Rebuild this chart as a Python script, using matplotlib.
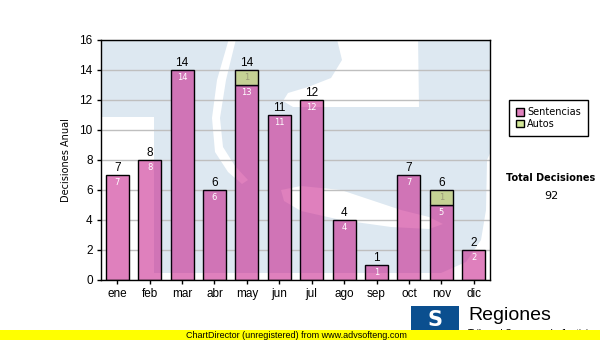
import numpy as np
import matplotlib
matplotlib.use("Agg")
import matplotlib.pyplot as plt
from matplotlib.patches import Patch, PathPatch, Rectangle
from matplotlib.path import Path
from matplotlib.transforms import Affine2D

# datos mensuales
meses = ["ene", "feb", "mar", "abr", "may", "jun", "jul", "ago", "sep", "oct", "nov", "dic"]
sentencias = [7, 8, 14, 6, 13, 11, 12, 4, 1, 7, 5, 2]
autos = [0, 0, 0, 0, 1, 0, 0, 0, 0, 0, 1, 0]

rosa = "#df80bd"
verde = "#d3e898"


def anillo(pts, sentido):
    # poligono cerrado con orientacion fija (para huecos en el path)
    pts = np.array(pts, float)
    area = 0.5 * np.sum(pts[:, 0] * np.roll(pts[:, 1], -1) - np.roll(pts[:, 0], -1) * pts[:, 1])
    if np.sign(area) != sentido:
        pts = pts[::-1]
    return Path(np.vstack([pts, pts[:1]]), closed=True)


# logo TS de fondo: zona azul = rectangulo menos huecos blancos (px del area de dibujo)
borde = [(-5, -5), (395, -5), (395, 245), (-5, 245)]
huecos = [
    [(-5, 77), (53, 77), (53, 233), (340, 233), (365, 222), (380, 200), (385, 170),
     (386, 120), (395, 100), (395, 245), (-5, 245)],
    [(129, -5), (136, -5), (125, 40), (119, 78), (122, 107), (134, 126), (147, 140),
     (141, 144), (127, 132), (114, 112), (111, 78), (116, 40)],
    [(235, -5), (317, -5), (318, 67), (192, 67), (182, 61), (187, 53), (207, 47),
     (230, 38), (241, 20)],
    [(180, 150), (200, 146), (240, 150), (270, 160), (300, 170), (328, 177), (342, 184),
     (328, 189), (290, 187), (240, 180), (200, 171), (183, 161)],
]
logo = Path.make_compound_path(anillo(borde, 1), *[anillo(h, -1) for h in huecos])

fig = plt.figure(figsize=(6, 3.4), dpi=100)
ax = fig.add_axes([101 / 600, 1 - 280 / 340, 389 / 600, 240 / 340])
wm = Affine2D().scale(1 / 389, -1 / 240).translate(0, 1) + ax.transAxes

ax.add_patch(PathPatch(logo, facecolor="#dde8f1", edgecolor="none", transform=wm, zorder=0.4))

x = np.arange(len(meses))
sent = np.array(sentencias)
aut = np.array(autos)
total = sent + aut

b1 = ax.bar(x, sent, width=0.71, color=rosa, edgecolor="black", linewidth=1, zorder=2)
m = aut > 0
b2 = ax.bar(x[m], aut[m], bottom=sent[m], width=0.71, color=verde,
            edgecolor="black", linewidth=1, zorder=2)

# el logo oscurece un poco las barras que tiene encima
for barra in list(b1) + list(b2):
    sombra = PathPatch(logo, facecolor="#50107a", edgecolor="none", alpha=0.1,
                       transform=wm, zorder=2.1)
    ax.add_patch(sombra)
    sombra.set_clip_path(barra)

# etiquetas
for i in range(len(meses)):
    ax.text(x[i], sent[i] - 0.5, str(sent[i]), ha="center", va="center",
            fontsize=6, color="white", zorder=5)
    if aut[i] > 0:
        ax.text(x[i], sent[i] + aut[i] / 2, str(aut[i]), ha="center", va="center",
                fontsize=6, color="#9a9a78", zorder=5)
    ax.annotate(str(total[i]), (x[i], total[i]), xytext=(0, 0.5), textcoords="offset points",
                ha="center", va="bottom", fontsize=8.5, zorder=5,
                family="Liberation Sans")

ax.set_xlim(-0.5, 11.5)
ax.set_ylim(0, 16)
ax.set_yticks(range(0, 17, 2))
ax.set_xticks(x)
ax.set_xticklabels(meses)
for lab in ax.get_xticklabels() + ax.get_yticklabels():
    lab.set_family("Liberation Sans")
ax.tick_params(direction="out", length=3, width=1, labelsize=8.5, pad=3)
ax.yaxis.grid(True, color="#bfbfbf", linewidth=1)
ax.set_axisbelow(True)
for s in ax.spines.values():
    s.set_linewidth(1)
ax.set_ylabel("Decisiones Anual", fontsize=7, labelpad=6)

fig.legend(handles=[Patch(facecolor=rosa, edgecolor="black", label="Sentencias"),
                    Patch(facecolor=verde, edgecolor="black", label="Autos")],
           loc="upper left", bbox_to_anchor=(509 / 600, 1 - 100 / 340),
           fontsize=7, frameon=True, fancybox=False, edgecolor="black",
           framealpha=1, handlelength=0.8, handleheight=0.8, handletextpad=0.3,
           borderpad=0.75, labelspacing=0.15, borderaxespad=0)

fig.text(551 / 600, 1 - 178 / 340, "Total Decisiones", ha="center", va="center",
         fontsize=7, fontweight="bold")
fig.text(551 / 600, 1 - 196 / 340, str(int(total.sum())), ha="center", va="center",
         fontsize=8)

# pie: logo y franja amarilla
fpx = Affine2D().scale(1 / 600, -1 / 340).translate(0, 1) + fig.transFigure
fig.patches.append(Rectangle((411, 306), 48, 28, facecolor="#0b4f8f", edgecolor="none",
                             transform=fpx, zorder=1))
fig.text(435 / 600, 1 - 320 / 340, "S", ha="center", va="center", fontsize=15,
         fontweight="bold", color="white", zorder=2)
fig.text(468 / 600, 1 - 316 / 340, "Regiones", ha="left", va="center", fontsize=14,
         family="Liberation Sans", zorder=2)
fig.text(468 / 600, 1 - 334 / 340, "Tribunal Supremo de Justicia", ha="left", va="center",
         fontsize=7, family="Liberation Sans", zorder=2)
fig.patches.append(Rectangle((0, 330), 600, 10, facecolor="#ffff00", edgecolor="none",
                             transform=fpx, zorder=3))
fig.text(296 / 600, 1 - 335 / 340, "ChartDirector (unregistered) from www.advsofteng.com",
         ha="center", va="center", fontsize=6.5, family="Liberation Sans", zorder=4)

fig.savefig("out.png", dpi=100)
